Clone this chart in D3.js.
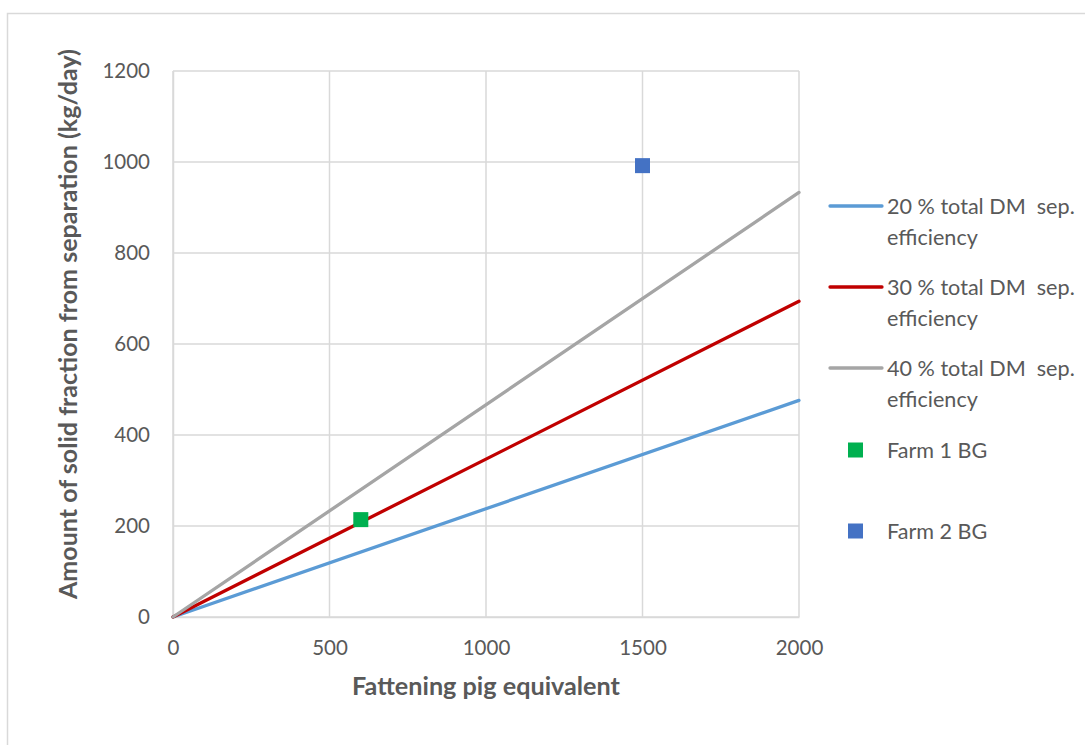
<!DOCTYPE html>
<html>
<head>
<meta charset="utf-8">
<script src="https://cdn.jsdelivr.net/npm/d3@7"></script>
<style>
  html, body { margin: 0; padding: 0; background: #fff; }
  svg { display: block; font-family: Lato, "Open Sans", sans-serif; }
  text { white-space: pre; }
</style>
</head>
<body>
<svg id="chart" width="1085" height="745"></svg>
<script>
// Solid fraction from separation vs. herd size
const pigEquivalents = [0, 2000];
const eff20 = [0, 476];
const eff30 = [0, 694];
const eff40 = [0, 933];
const farmNames = ["Farm 1 BG", "Farm 2 BG"];
const farmX = [600, 1500];
const farmY = [214, 992];
const seriesNames = ["20 % total DM  sep.", "30 % total DM  sep.", "40 % total DM  sep."];
const xTicks = [0, 500, 1000, 1500, 2000];
const yTicks = [0, 200, 400, 600, 800, 1000, 1200];

const lineColors = ["#5b9bd5", "#c00000", "#a5a5a5"];
const farmColors = ["#00b050", "#4472c4"];
const textColor = "#595959";
const gridColor = "#d9d9d9";

const svg = d3.select("#chart");

// outer chart border
svg.append("rect")
  .attr("x", 7.5).attr("y", 13.5)
  .attr("width", 1200).attr("height", 900)
  .attr("fill", "#fff").attr("stroke", gridColor).attr("stroke-width", 1.5);

const x = d3.scaleLinear().domain([0, 2000]).range([173, 799]);
const y = d3.scaleLinear().domain([0, 1200]).range([617, 71]);

// gridlines
const g = svg.append("g");
g.selectAll("line.h").data(yTicks).join("line")
  .attr("x1", x(0)).attr("x2", x(2000))
  .attr("y1", d => y(d)).attr("y2", d => y(d))
  .attr("stroke", gridColor).attr("stroke-width", 1.5);
g.selectAll("line.v").data(xTicks).join("line")
  .attr("y1", y(0)).attr("y2", y(1200))
  .attr("x1", d => x(d)).attr("x2", d => x(d))
  .attr("stroke", gridColor).attr("stroke-width", 1.5);

// axes (labels only, no tick marks)
const xAxis = svg.append("g").attr("transform", `translate(0,${y(0)})`)
  .call(d3.axisBottom(x).tickValues(xTicks).tickSize(0).tickPadding(23).tickFormat(d3.format("d")));
const yAxis = svg.append("g").attr("transform", `translate(${x(0)},0)`)
  .call(d3.axisLeft(y).tickValues(yTicks).tickSize(0).tickPadding(23).tickFormat(d3.format("d")));
[xAxis, yAxis].forEach(a => {
  a.select(".domain").attr("stroke", gridColor).attr("stroke-width", 1.5);
  a.selectAll("text").attr("fill", textColor).style("font-size", "20.5px")
    .style("font-family", "Lato, 'Open Sans', sans-serif");
});

// series lines
const line = d3.line().x(d => x(d[0])).y(d => y(d[1]));
[eff20, eff30, eff40].forEach((vals, i) => {
  svg.append("path")
    .datum(pigEquivalents.map((p, j) => [p, vals[j]]))
    .attr("d", line)
    .attr("fill", "none")
    .attr("stroke", lineColors[i])
    .attr("stroke-width", 3.3)
    .attr("stroke-linecap", "round");
});

// farm markers
const ms = 15;
svg.selectAll("rect.farm").data(farmX).join("rect")
  .attr("x", (d) => x(d) - ms / 2)
  .attr("y", (d, i) => y(farmY[i]) - ms / 2)
  .attr("width", ms).attr("height", ms)
  .attr("fill", (d, i) => farmColors[i]);

// axis titles
svg.append("text")
  .attr("x", x(1000)).attr("y", 695)
  .attr("text-anchor", "middle")
  .attr("textLength", 268).attr("lengthAdjust", "spacingAndGlyphs")
  .attr("fill", textColor).style("font-size", "25px").style("font-weight", "bold")
  .text("Fattening pig equivalent");
svg.append("text")
  .attr("transform", "translate(77,324) rotate(-90)")
  .attr("text-anchor", "middle")
  .attr("textLength", 550).attr("lengthAdjust", "spacingAndGlyphs")
  .attr("fill", textColor).style("font-size", "25px").style("font-weight", "bold")
  .text("Amount of solid fraction from separation (kg/day)");

// legend
const legY = [206, 287, 368];
const leg = svg.append("g");
seriesNames.forEach((name, i) => {
  leg.append("line")
    .attr("x1", 830).attr("x2", 882)
    .attr("y1", legY[i]).attr("y2", legY[i])
    .attr("stroke", lineColors[i]).attr("stroke-width", 3.3)
    .attr("stroke-linecap", "round");
  const t = leg.append("text").attr("x", 887).attr("y", legY[i] + 8)
    .attr("fill", textColor).style("font-size", "21.6px");
  t.append("tspan").attr("x", 887).text(name);
  t.append("tspan").attr("x", 887).attr("dy", 31).text("efficiency");
});
const farmLegY = [450, 531];
farmNames.forEach((name, i) => {
  leg.append("rect")
    .attr("x", 855 - ms / 2 + 0.5).attr("y", farmLegY[i] - ms / 2)
    .attr("width", ms).attr("height", ms)
    .attr("fill", farmColors[i]);
  leg.append("text").attr("x", 887).attr("y", farmLegY[i] + 8)
    .attr("fill", textColor).style("font-size", "21.6px")
    .text(name);
});
</script>
</body>
</html>
